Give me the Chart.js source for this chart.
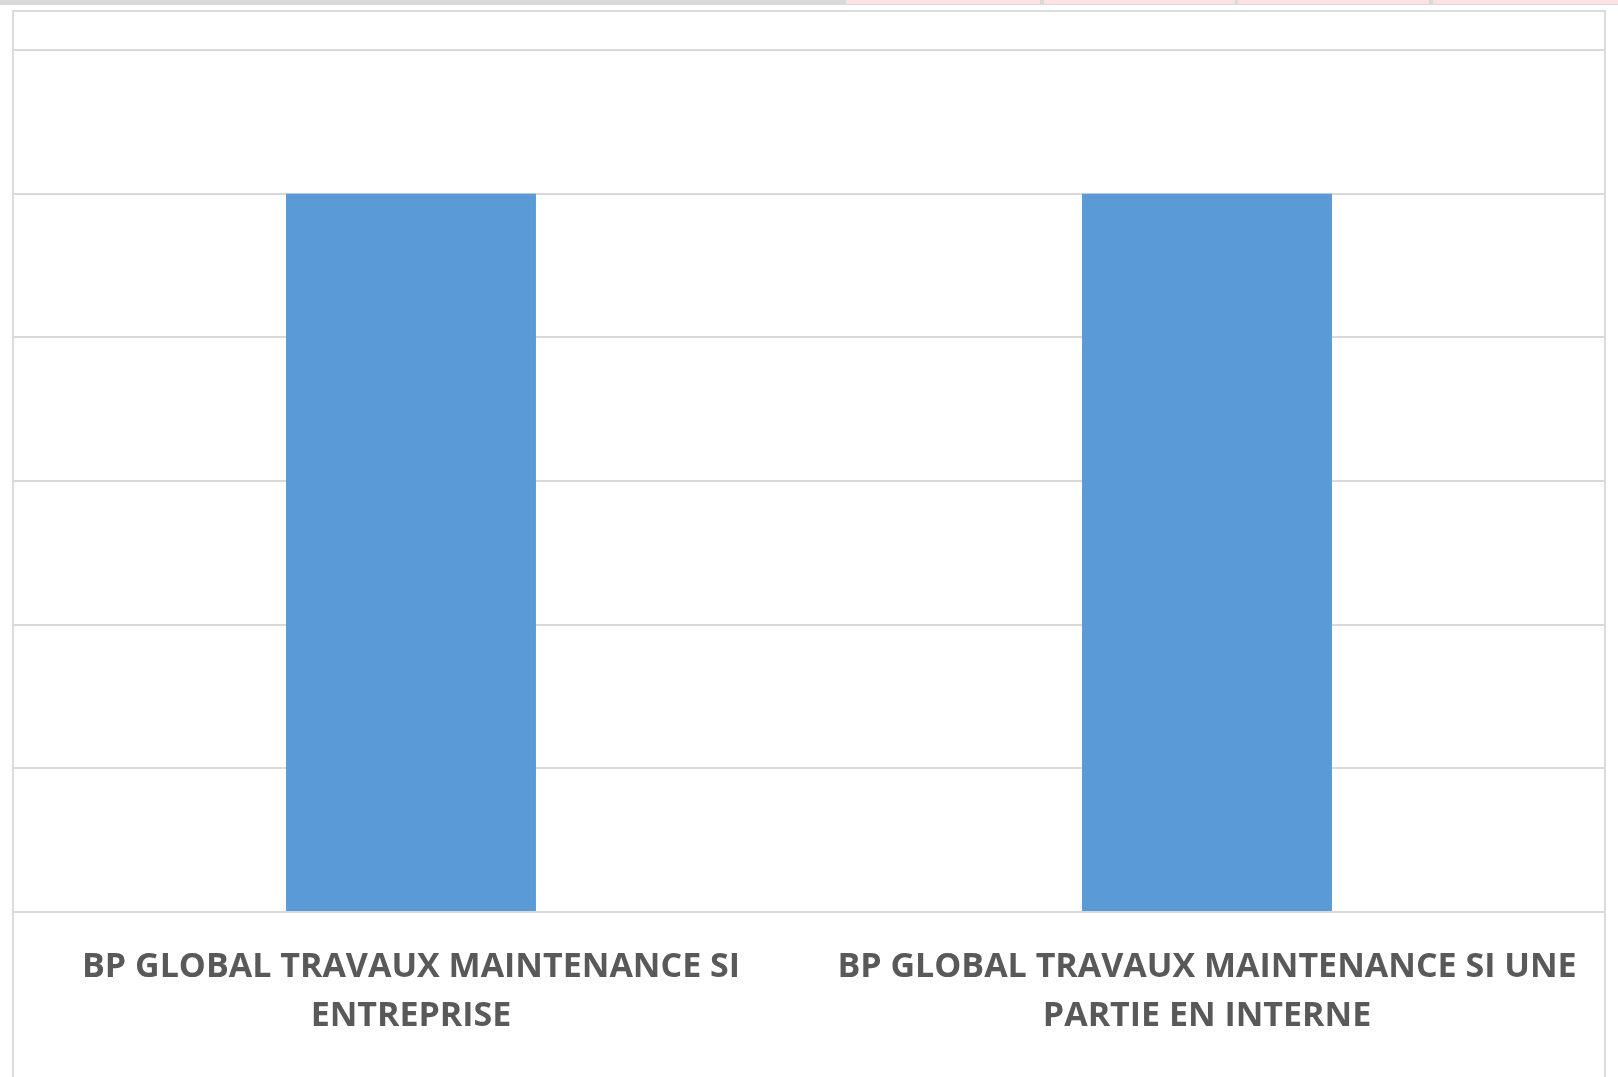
<!DOCTYPE html>
<html>
<head>
<meta charset="utf-8">
<script src="https://cdn.jsdelivr.net/npm/chart.js@4/dist/chart.umd.min.js"></script>
<style>
  html, body { margin: 0; padding: 0; background: #fff; overflow: hidden; }
  .topbar { position: absolute; left: 0; top: 0; width: 1618px; height: 5px; background: #d9d9d9; }
  .pink { position: absolute; top: 0; height: 4px; background: #fde2e2; }
  .frame { position: absolute; left: 12px; top: 10px; width: 1590px; height: 1080px; border: 2px solid #dcdcdc; }
  canvas { position: absolute; left: 0; top: 0; }
</style>
</head>
<body>
<div class="topbar"></div>
<div class="pink" style="left:846px;width:194px"></div>
<div class="pink" style="left:1044px;width:191px"></div>
<div class="pink" style="left:1238px;width:191px"></div>
<div class="pink" style="left:1433px;width:185px"></div>
<div class="frame"></div>
<canvas id="chart" width="1618" height="1077"></canvas>
<script>
  const categories = [
    ['BP GLOBAL TRAVAUX MAINTENANCE SI', 'ENTREPRISE'],
    ['BP GLOBAL TRAVAUX MAINTENANCE SI UNE', 'PARTIE EN INTERNE']
  ]
  const values = [5, 5]
  const yMax = 6

  const ctx = document.getElementById('chart').getContext('2d')
  new Chart(ctx, {
    type: 'bar',
    data: {
      labels: categories,
      datasets: [
        {
          label: 'BP',
          data: values,
          backgroundColor: '#5b9bd5',
          borderWidth: 0,
          categoryPercentage: 1,
          barPercentage: 0.314
        }
      ]
    },
    options: {
      responsive: false,
      animation: false,
      layout: { padding: { left: 13, right: 13, top: 50, bottom: 0 } },
      plugins: {
        legend: { display: false },
        tooltip: { enabled: false }
      },
      scales: {
        x: {
          grid: { display: false },
          border: { display: false },
          ticks: {
            color: '#595959',
            padding: 23,
            maxRotation: 0,
            autoSkip: false,
            font: { family: 'Open Sans', weight: 'bold', size: 34, lineHeight: 1.44 }
          },
          afterFit: scale => { scale.height = 165 }
        },
        y: {
          min: 0,
          max: yMax,
          ticks: { display: false, stepSize: 1 },
          border: { display: false },
          grid: { color: '#d9d9d9', lineWidth: 2, drawTicks: false }
        }
      }
    }
  })
</script>
</body>
</html>
